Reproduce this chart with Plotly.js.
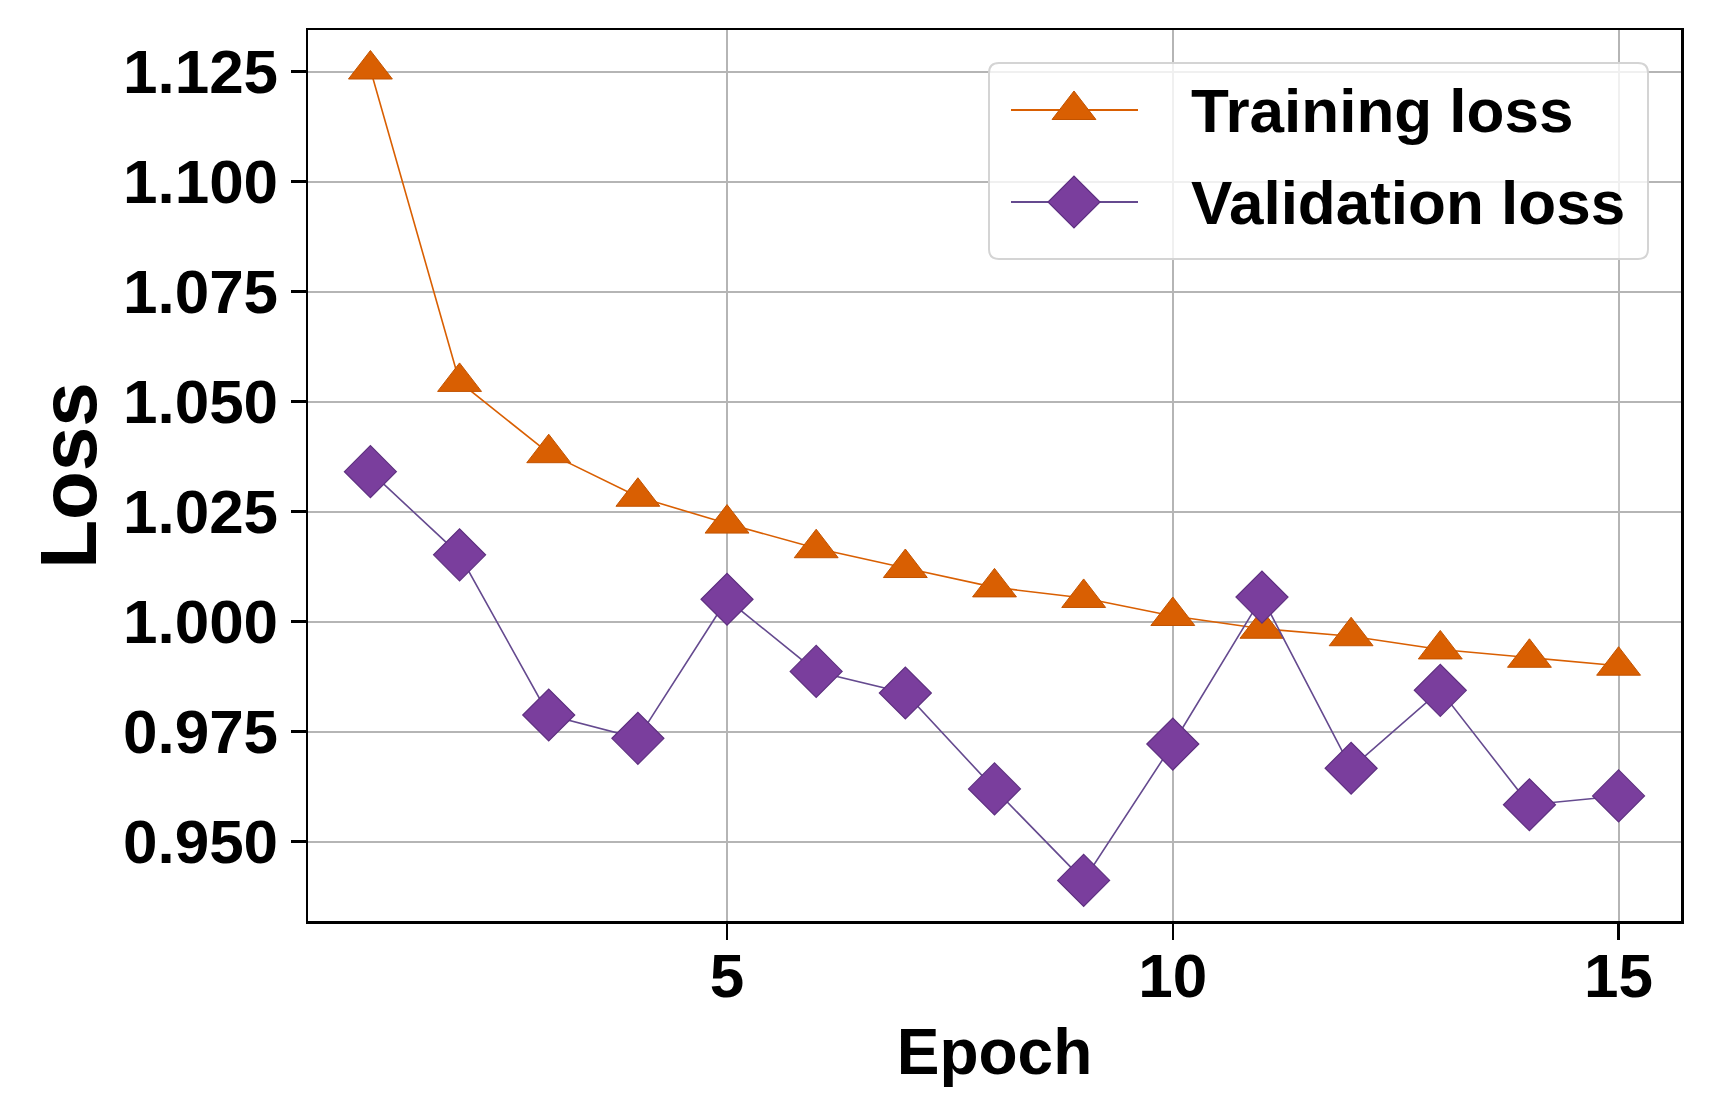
<!DOCTYPE html>
<html>
<head>
<meta charset="utf-8">
<script src="https://cdn.plot.ly/plotly-3.0.1.min.js"></script>
<style>
  html, body { margin: 0; padding: 0; background: #ffffff; }
  #chart { width: 1710px; height: 1115px; }
</style>
</head>
<body>
<div id="chart"></div>
<script>
// ---- data ----
const epochs = [1, 2, 3, 4, 5, 6, 7, 8, 9, 10, 11, 12, 13, 14, 15];
const trainingLoss = [1.1255, 1.0545, 1.0383, 1.0284, 1.0223, 1.0167, 1.0122, 1.0078, 1.0054, 1.0013, 0.9984, 0.9967, 0.9937, 0.9918, 0.9900];
const validationLoss = [1.0341, 1.0152, 0.9788, 0.9735, 1.0051, 0.9887, 0.9838, 0.9620, 0.9412, 0.9722, 1.0056, 0.9667, 0.9844, 0.9584, 0.9604];
const seriesNames = ['Training loss', 'Validation loss'];
const xTickValues = [5, 10, 15];
const xTickLabels = ['5', '10', '15'];
const yTickValues = [0.950, 0.975, 1.000, 1.025, 1.050, 1.075, 1.100, 1.125];
const yTickLabels = ['0.950', '0.975', '1.000', '1.025', '1.050', '1.075', '1.100', '1.125'];
const xTitle = 'Epoch';
const yTitle = 'Loss';

// ---- styling ----
const W = 1710, H = 1115;
const M = { l: 308, r: 29, t: 30, b: 194 };
const plotW = W - M.l - M.r, plotH = H - M.t - M.b;
const FONT = 'Liberation Sans, Arial, Helvetica, sans-serif';
const ORANGE = '#d95f02';
const PURPLE = '#7a3e9d';
const PURPLE_LINE = '#654a8f';
const TRI_SIZE = 38, DIA_SIZE = 40;

// pixel -> paper helpers for the hand-built legend box
function px(x) { return (x - M.l) / plotW; }
function py(y) { return (H - M.b - y) / plotH; }
function pt(x, y) { return px(x).toFixed(5) + ',' + py(y).toFixed(5); }

const traces = [
  {
    x: epochs, y: trainingLoss, name: seriesNames[0], type: 'scatter', mode: 'lines+markers',
    line: { color: ORANGE, width: 1.6 },
    marker: { symbol: 'triangle-up', size: TRI_SIZE, color: ORANGE, line: { color: '#c25300', width: 1 } },
    showlegend: false
  },
  {
    x: epochs, y: validationLoss, name: seriesNames[1], type: 'scatter', mode: 'lines+markers',
    line: { color: PURPLE_LINE, width: 1.6 },
    marker: { symbol: 'diamond', size: DIA_SIZE, color: PURPLE, line: { color: '#5e3080', width: 1.2 } },
    showlegend: false
  }
];

// legend geometry (pixels)
const LG = { x0: 989, y0: 63, x1: 1648, y1: 259, r: 10 };
const rows = [110, 202];
const sampleX0 = 1011, sampleX1 = 1138, markerX = 1074, textX = 1189;

function roundedRect(b) {
  const r = b.r;
  return 'M' + pt(b.x0 + r, b.y0) +
    ' L' + pt(b.x1 - r, b.y0) + ' Q' + pt(b.x1, b.y0) + ' ' + pt(b.x1, b.y0 + r) +
    ' L' + pt(b.x1, b.y1 - r) + ' Q' + pt(b.x1, b.y1) + ' ' + pt(b.x1 - r, b.y1) +
    ' L' + pt(b.x0 + r, b.y1) + ' Q' + pt(b.x0, b.y1) + ' ' + pt(b.x0, b.y1 - r) +
    ' L' + pt(b.x0, b.y0 + r) + ' Q' + pt(b.x0, b.y0) + ' ' + pt(b.x0 + r, b.y0) + ' Z';
}
function triPath(cx, cy, size) {
  const r = size / 2, rt = r * 2 / Math.sqrt(3);
  return 'M' + pt(cx - rt, cy + r / 2) + ' L' + pt(cx + rt, cy + r / 2) + ' L' + pt(cx, cy - r) + ' Z';
}
function diaPath(cx, cy, size) {
  const rd = size / 2 * 1.3;
  return 'M' + pt(cx + rd, cy) + ' L' + pt(cx, cy + rd) + ' L' + pt(cx - rd, cy) + ' L' + pt(cx, cy - rd) + ' Z';
}

const shapes = [
  { type: 'path', xref: 'paper', yref: 'paper', layer: 'above', path: roundedRect(LG),
    fillcolor: 'rgba(255,255,255,0.8)', line: { color: '#d4d4d4', width: 2 } },
  { type: 'line', xref: 'paper', yref: 'paper', layer: 'above',
    x0: px(sampleX0), x1: px(sampleX1), y0: py(rows[0]), y1: py(rows[0]), line: { color: ORANGE, width: 2 } },
  { type: 'path', xref: 'paper', yref: 'paper', layer: 'above', path: triPath(markerX, rows[0], TRI_SIZE),
    fillcolor: ORANGE, line: { color: '#c25300', width: 1 } },
  { type: 'line', xref: 'paper', yref: 'paper', layer: 'above',
    x0: px(sampleX0), x1: px(sampleX1), y0: py(rows[1]), y1: py(rows[1]), line: { color: PURPLE_LINE, width: 2 } },
  { type: 'path', xref: 'paper', yref: 'paper', layer: 'above', path: diaPath(markerX, rows[1], DIA_SIZE),
    fillcolor: PURPLE, line: { color: '#5e3080', width: 1.2 } }
];

const annotations = seriesNames.map((name, i) => ({
  xref: 'paper', yref: 'paper', x: px(textX), y: py(rows[i]),
  xanchor: 'left', yanchor: 'middle', showarrow: false, text: name,
  font: { family: FONT, size: 62, weight: 'bold', color: '#000000' }
}));

const axisCommon = {
  showline: true, mirror: true, linecolor: '#000000', linewidth: 2.5,
  ticks: 'outside', tickcolor: '#000000', tickwidth: 2.5,
  showgrid: true, gridcolor: '#b5b5b5', gridwidth: 2,
  zeroline: false, automargin: false,
  tickfont: { family: FONT, size: 62, weight: 'bold', color: '#000000' }
};

const layout = {
  width: W, height: H,
  margin: M,
  paper_bgcolor: '#ffffff', plot_bgcolor: '#ffffff',
  showlegend: false,
  xaxis: Object.assign({}, axisCommon, {
    range: [0.3, 15.7], tickmode: 'array', tickvals: xTickValues, ticktext: xTickLabels, ticklen: 16,
    ticklabelstandoff: -17,
    title: { text: xTitle, font: { family: FONT, size: 64, weight: 'bold', color: '#000000' }, standoff: 21 }
  }),
  yaxis: Object.assign({}, axisCommon, {
    range: [0.93198, 1.13448], tickmode: 'array', tickvals: yTickValues, ticktext: yTickLabels, ticklen: 15,
    title: { text: yTitle, font: { family: FONT, size: 80, weight: 'bold', color: '#000000' }, standoff: 0 }
  }),
  shapes: shapes,
  annotations: annotations
};

Plotly.newPlot('chart', traces, layout, { displayModeBar: false, staticPlot: true });
</script>
</body>
</html>
